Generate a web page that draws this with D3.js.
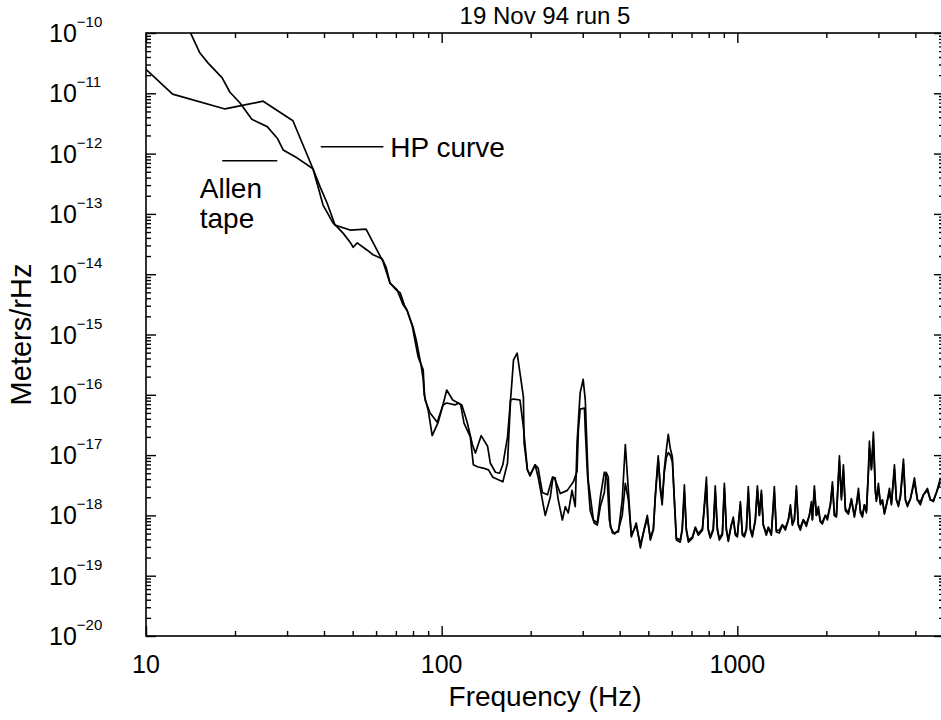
<!DOCTYPE html>
<html>
<head>
<meta charset="utf-8">
<script src="https://cdn.jsdelivr.net/npm/d3@7"></script>
<style>
  html, body { margin: 0; padding: 0; background: #fff; }
  svg { display: block; font-family: "Liberation Sans", Arial, sans-serif; }
</style>
</head>
<body>
<div class="canvas"></div>
<script>
/////////////////////////////////////////////////////
////////////// data ///////////////
/////////////////////////////////////////////////////

// HP analyser curve (coarser, flat topped lines)
const hpFreq = [10, 12.3, 18.5, 24.9, 31.4, 36.7, 38.8, 41.0, 43.6, 49.0,
  55.5, 63.4, 66.9, 70.7, 74.1, 76.4, 79.5, 83.3, 86.6, 87.3,
  87.9, 91.4, 96.6, 101, 104, 111, 114, 116, 119, 125,
  128, 132, 138, 144, 149, 161, 167, 171, 175, 184,
  189, 195, 199, 207, 212, 219, 228, 237, 242, 252,
  266, 279, 287, 290, 294, 304, 306, 311, 318, 328,
  336, 344, 355, 360, 366, 372, 384, 396, 408, 418,
  428, 438, 455,
  470, 485, 496, 508, 520, 528, 540, 549, 557, 566,
  575, 584, 593, 603, 612, 622, 641, 651, 662, 672,
  683, 705, 721, 738, 762, 786, 797, 810, 829, 842,
  856, 869, 890, 904, 918, 932, 954, 969, 985, 1000,
  1024, 1040, 1056, 1073, 1089, 1107, 1124, 1150, 1169, 1187,
  1206, 1224, 1253, 1273, 1303, 1334, 1355, 1387, 1420, 1454,
  1488, 1512, 1535, 1559, 1584, 1608, 1634, 1672, 1712, 1752,
  1780, 1794, 1822, 1851, 1880, 1909, 1939, 1985, 2016, 2064,
  2097, 2130, 2163, 2214, 2249, 2284, 2320, 2375, 2431, 2488,
  2528, 2568, 2608, 2649, 2690, 2733, 2775, 2797, 2841, 2885,
  2931, 2953, 3000, 3048, 3095, 3144, 3194, 3269, 3320, 3399,
  3452, 3506, 3562, 3646, 3703, 3761, 3851, 3972, 4066, 4162,
  4260, 4395, 4499, 4606, 4715, 4864];
const hpAmp = [2.5e-11, 9.7e-12, 5.5e-12, 7.4e-12, 3.5e-12, 5.6e-13, 2.8e-13, 1.5e-13, 6.5e-14, 5.4e-14,
  5.6e-14, 1.6e-14, 7.1e-15, 5.5e-15, 3.1e-15, 2.5e-15, 1.4e-15, 4.2e-16, 2.6e-16, 1.2e-16,
  8.2e-17, 5.0e-17, 3.5e-17, 6.8e-17, 7.3e-17, 6.8e-17, 7.3e-17, 6.8e-17, 3.4e-17, 2.0e-17,
  6.9e-18, 6.4e-18, 6.1e-18, 5.7e-18, 4.3e-18, 3.6e-18, 7.4e-18, 8.2e-17, 8.5e-17, 8.2e-17,
  2.9e-17, 5.7e-18, 4.7e-18, 6.9e-18, 6.1e-18, 2.4e-18, 2.2e-18, 4.3e-18, 3.9e-18, 2.3e-18,
  2.6e-18, 3.6e-18, 5.4e-18, 2.6e-17, 5.8e-17, 6.0e-17, 2.6e-17, 5.0e-18, 1.2e-18, 7.5e-19,
  6.9e-19, 1.4e-18, 2.4e-18, 5.2e-18, 4.3e-18, 6.4e-19, 4.9e-19, 5.7e-19, 1.0e-18, 3.4e-18,
  1.8e-18, 4.7e-19, 6.9e-19,
  3.3e-19, 6.0e-19, 9.0e-19, 4.2e-19, 6.0e-19, 2.0e-18, 8.5e-18, 3.0e-18, 1.8e-18, 5.0e-18,
  9.0e-18, 1.1e-17, 1.0e-17, 7.7e-18, 2.0e-18, 4.2e-19, 3.9e-19, 6.0e-19, 2.4e-18, 6.0e-19,
  3.9e-19, 4.4e-19, 6.4e-19, 5.0e-19, 6.0e-19, 3.2e-18, 6.0e-19, 4.4e-19, 6.0e-19, 2.4e-18,
  6.0e-19, 4.2e-19, 5.0e-19, 2.8e-18, 6.0e-19, 3.9e-19, 7.0e-19, 8.4e-19, 5.0e-19, 4.7e-19,
  1.5e-18, 5.0e-19, 4.7e-19, 6.0e-19, 2.4e-18, 6.0e-19, 4.7e-19, 8.0e-19, 2.6e-18, 1.0e-18,
  2.3e-18, 7.0e-19, 5.0e-19, 6.4e-19, 5.0e-19, 2.4e-18, 5.6e-19, 5.7e-19, 7.0e-19, 6.2e-19,
  8.5e-19, 1.3e-18, 7.2e-19, 8.5e-19, 2.6e-18, 7.0e-19, 6.4e-19, 8.5e-19, 7.2e-19, 1.0e-18,
  1.5e-18, 8.5e-19, 2.6e-18, 1.0e-18, 1.2e-18, 8.0e-19, 7.8e-19, 1.0e-18, 9.1e-19, 1.5e-18,
  3.1e-18, 1.0e-18, 1.0e-18, 7.7e-18, 2.0e-18, 5.7e-18, 1.3e-18, 1.1e-18, 1.8e-18, 1.0e-18,
  1.5e-18, 2.4e-18, 1.2e-18, 1.0e-18, 1.5e-18, 1.2e-18, 5.0e-18, 1.3e-17, 6.0e-18, 1.8e-17,
  2.4e-18, 1.8e-18, 2.8e-18, 1.6e-18, 1.8e-18, 1.1e-18, 1.5e-18, 2.4e-18, 1.6e-18, 5.7e-18,
  1.8e-18, 1.5e-18, 2.0e-18, 7.1e-18, 1.8e-18, 1.5e-18, 1.9e-18, 3.6e-18, 1.8e-18, 1.7e-18,
  2.2e-18, 2.6e-18, 1.8e-18, 1.8e-18, 2.4e-18, 3.6e-18];

// Allen tape curve (finer resolution, sharp peaks)
const tapeFreq = [14.0, 15.2, 16.2, 18.1, 19.2, 20.8, 22.8, 25.7, 27.8, 29.1,
  32.4, 36.7, 38.2, 39.7, 42.9, 44.3, 46.4, 49.0, 50.2, 51.8,
  56.0, 58.6, 62.9, 64.9, 66.9, 70.2, 72.4, 74.7, 76.4, 80.1,
  82.0, 85.2, 86.6, 87.3, 90.0, 92.9, 97.3, 101, 104, 109,
  117, 122, 127, 130, 136, 143, 146, 152, 157, 161,
  167, 172, 175, 180, 184, 189, 190, 195, 199, 207,
  212, 224, 233, 238, 242, 248, 256, 262, 268, 276,
  283, 287, 294, 301, 306, 313, 326, 336, 344, 355,
  363, 369, 378, 396, 408, 418, 428, 438, 455,
  470, 485, 496, 508, 520, 528, 540, 549, 557, 566,
  575, 584, 593, 603, 612, 622, 641, 651, 662, 672,
  683, 705, 721, 738, 762, 786, 797, 810, 829, 842,
  856, 869, 890, 904, 918, 932, 954, 969, 985, 1000,
  1024, 1040, 1056, 1073, 1089, 1107, 1124, 1150, 1169, 1187,
  1206, 1224, 1253, 1273, 1303, 1334, 1355, 1387, 1420, 1454,
  1488, 1512, 1535, 1559, 1584, 1608, 1634, 1672, 1712, 1752,
  1780, 1794, 1822, 1851, 1880, 1909, 1939, 1985, 2016, 2064,
  2097, 2130, 2163, 2214, 2249, 2284, 2320, 2375, 2431, 2488,
  2528, 2568, 2608, 2649, 2690, 2733, 2775, 2797, 2841, 2885,
  2931, 2953, 3000, 3048, 3095, 3144, 3194, 3269, 3320, 3399,
  3452, 3506, 3562, 3646, 3703, 3761, 3851, 3972, 4066, 4162,
  4260, 4395, 4499, 4606, 4715, 4864];
const tapeAmp = [1.12e-10, 4.7e-11, 3.2e-11, 1.8e-11, 1.05e-11, 6.9e-12, 3.7e-12, 2.8e-12, 1.8e-12, 1.15e-12,
  8.5e-13, 5.6e-13, 2.8e-13, 1.4e-13, 7.1e-14, 6.1e-14, 4.8e-14, 3.4e-14, 2.8e-14, 3.3e-14,
  2.5e-14, 2.1e-14, 1.8e-14, 1.3e-14, 7.1e-15, 5.5e-15, 4.9e-15, 3.1e-15, 2.5e-15, 1.3e-15,
  8.1e-16, 3.1e-16, 1.8e-16, 9.9e-17, 5.6e-17, 2.1e-17, 3.5e-17, 6.8e-17, 1.2e-16, 8.2e-17,
  6.8e-17, 3.5e-17, 1.5e-17, 1.08e-17, 2.1e-17, 1.4e-17, 7.4e-18, 5.2e-18, 5.0e-18, 6.9e-18,
  2.0e-17, 1.2e-16, 3.8e-16, 4.9e-16, 2.3e-16, 9.2e-17, 1.6e-17, 5.7e-18, 4.5e-18, 6.9e-18,
  4.3e-18, 1.0e-18, 2.0e-18, 4.3e-18, 4.2e-18, 1.8e-18, 8.4e-19, 1.4e-18, 1.1e-18, 2.6e-18,
  1.4e-18, 1.6e-17, 1.07e-16, 1.8e-16, 8.2e-17, 3.9e-18, 8.4e-19, 7.5e-19, 2.0e-18, 5.2e-18,
  3.9e-18, 8.4e-19, 5.1e-19, 5.3e-19, 1.8e-18, 1.5e-17, 2.6e-18, 4.4e-19, 7.5e-19,
  2.9e-19, 6.2e-19, 1.0e-18, 3.9e-19, 5.7e-19, 2.2e-18, 9.7e-18, 2.6e-18, 1.5e-18, 5.7e-18,
  1.2e-17, 2.2e-17, 1.3e-17, 9.3e-18, 1.8e-18, 3.9e-19, 3.6e-19, 5.7e-19, 3.2e-18, 5.7e-19,
  3.6e-19, 4.2e-19, 6.2e-19, 4.7e-19, 5.7e-19, 4.3e-18, 5.7e-19, 4.2e-19, 5.7e-19, 3.1e-18,
  5.7e-19, 3.9e-19, 4.7e-19, 3.4e-18, 5.7e-19, 3.7e-19, 6.9e-19, 9.4e-19, 4.7e-19, 4.4e-19,
  1.7e-18, 4.7e-19, 4.4e-19, 5.7e-19, 3.0e-18, 5.7e-19, 4.4e-19, 8.4e-19, 3.1e-18, 1.0e-18,
  2.6e-18, 6.9e-19, 4.7e-19, 6.2e-19, 4.7e-19, 3.0e-18, 5.3e-19, 5.1e-19, 6.9e-19, 5.7e-19,
  8.4e-19, 1.5e-18, 6.9e-19, 8.4e-19, 3.1e-18, 6.9e-19, 5.7e-19, 8.4e-19, 6.6e-19, 1.0e-18,
  1.7e-18, 8.4e-19, 3.1e-18, 1.0e-18, 1.4e-18, 7.8e-19, 7.2e-19, 1.0e-18, 8.4e-19, 1.5e-18,
  3.6e-18, 1.0e-18, 9.4e-19, 9.7e-18, 1.8e-18, 6.9e-18, 1.2e-18, 1.05e-18, 1.9e-18, 9.4e-19,
  1.5e-18, 2.8e-18, 1.1e-18, 9.4e-19, 1.5e-18, 1.1e-18, 5.7e-18, 1.7e-17, 5.7e-18, 2.4e-17,
  2.6e-18, 1.7e-18, 3.4e-18, 1.5e-18, 1.8e-18, 1.05e-18, 1.5e-18, 2.8e-18, 1.5e-18, 6.9e-18,
  1.8e-18, 1.4e-18, 2.2e-18, 8.6e-18, 1.8e-18, 1.4e-18, 1.9e-18, 4.2e-18, 1.8e-18, 1.5e-18,
  2.2e-18, 2.8e-18, 1.8e-18, 1.7e-18, 2.4e-18, 4.2e-18];

// axis domains and labelled decades
const freqDomain = [10, 5000];
const ampDomain = [1e-20, 1e-10];
const xLabels = [10, 100, 1000];
const yExponents = [-10, -11, -12, -13, -14, -15, -16, -17, -18, -19, -20];

/////////////////////////////////////////////////////
//////////////// chart scaffolding //////////////////
/////////////////////////////////////////////////////

const dims = { width: 941, height: 720 };
// plot box (right edge runs just past the window)
const box = { left: 146, right: 944, top: 33, bottom: 636 };

const svg = d3.select('.canvas')
  .append('svg')
  .attr('width', dims.width)
  .attr('height', dims.height);

const x = d3.scaleLog().domain(freqDomain).range([box.left, box.right]);
const y = d3.scaleLog().domain(ampDomain).range([box.bottom, box.top]);

// major = powers of ten, minor = everything else
const isPow10 = v => Math.abs(Math.log10(v) - Math.round(Math.log10(v))) < 1e-6;
const xMinor = x.ticks().filter(v => !isPow10(v));
const xMajor = x.ticks().filter(isPow10);
const yMinor = y.ticks(20).filter(v => !isPow10(v));
const yMajor = y.ticks(20).filter(isPow10);

// tick marks all point into the box
const tickGroup = (axis, vals, len, tx, ty) => {
  const g = svg.append('g')
    .attr('transform', `translate(${tx}, ${ty})`)
    .call(axis.tickValues(vals).tickSize(-len).tickFormat(''));
  g.select('.domain').remove();
  g.selectAll('line').attr('stroke', '#000').attr('stroke-width', 1.4);
};

tickGroup(d3.axisBottom(x), xMinor, 5, 0, box.bottom);
tickGroup(d3.axisBottom(x), xMajor, 10, 0, box.bottom);
tickGroup(d3.axisTop(x), xMinor, 5, 0, box.top);
tickGroup(d3.axisTop(x), xMajor, 10, 0, box.top);
tickGroup(d3.axisLeft(y), yMinor, 5, box.left, 0);
tickGroup(d3.axisLeft(y), yMajor, 10, box.left, 0);
tickGroup(d3.axisRight(y), yMinor, 5, box.right, 0);
tickGroup(d3.axisRight(y), yMajor, 10, box.right, 0);

// frame
svg.append('rect')
  .attr('x', box.left)
  .attr('y', box.top)
  .attr('width', box.right - box.left)
  .attr('height', box.bottom - box.top)
  .attr('fill', 'none')
  .attr('stroke', '#000')
  .attr('stroke-width', 1.6);

/////////////////////////////////////////////////////
///////////////////// curves ////////////////////////
/////////////////////////////////////////////////////

svg.append('clipPath').attr('id', 'plotClip')
  .append('rect')
  .attr('x', box.left).attr('y', box.top)
  .attr('width', box.right - box.left).attr('height', box.bottom - box.top);

const line = d3.line()
  .x(d => x(d[0]))
  .y(d => y(d[1]));

const curves = [d3.zip(hpFreq, hpAmp), d3.zip(tapeFreq, tapeAmp)];

svg.append('g')
  .attr('clip-path', 'url(#plotClip)')
  .selectAll('path')
  .data(curves)
  .enter()
  .append('path')
  .attr('d', line)
  .attr('fill', 'none')
  .attr('stroke', '#000')
  .attr('stroke-width', 1.7)
  .attr('stroke-linejoin', 'round');

/////////////////////////////////////////////////////
///////////////////// labels ////////////////////////
/////////////////////////////////////////////////////

// y tick labels: 10 with a superscript exponent
const yLab = svg.append('g')
  .selectAll('text')
  .data(yExponents)
  .enter()
  .append('text')
  .attr('x', 49)
  .attr('y', d => y(Math.pow(10, d)) + 9)
  .attr('font-size', 25);
yLab.append('tspan').text('10');
yLab.append('tspan')
  .attr('dy', -15)
  .attr('font-size', 15)
  .text(d => '\u2212' + Math.abs(d));

// x tick labels
svg.append('g')
  .selectAll('text')
  .data(xLabels)
  .enter()
  .append('text')
  .attr('x', d => x(d))
  .attr('y', 673)
  .attr('text-anchor', 'middle')
  .attr('font-size', 25)
  .text(d => d);

// axis titles + plot title
svg.append('text')
  .attr('x', (box.left + box.right) / 2)
  .attr('y', 706)
  .attr('text-anchor', 'middle')
  .attr('font-size', 28)
  .text('Frequency (Hz)');

svg.append('text')
  .attr('transform', `translate(31, ${(box.top + box.bottom) / 2}) rotate(-90)`)
  .attr('text-anchor', 'middle')
  .attr('font-size', 29)
  .text('Meters/rHz');

svg.append('text')
  .attr('x', (box.left + box.right) / 2)
  .attr('y', 24)
  .attr('text-anchor', 'middle')
  .attr('font-size', 24)
  .text('19 Nov 94 run 5');

// curve annotations, placed in data units
const note = (f0, f1, amp) => svg.append('line')
  .attr('x1', x(f0)).attr('x2', x(f1))
  .attr('y1', y(amp)).attr('y2', y(amp))
  .attr('stroke', '#000')
  .attr('stroke-width', 1.6);

note(39, 63.5, 1.3e-12);
svg.append('text')
  .attr('x', x(67)).attr('y', y(1.3e-12) + 10)
  .attr('font-size', 28)
  .text('HP curve');

note(18.1, 27.8, 7.6e-13);
svg.append('text')
  .attr('x', x(15.2)).attr('y', 198)
  .attr('font-size', 28)
  .text('Allen');
svg.append('text')
  .attr('x', x(15.2)).attr('y', 228)
  .attr('font-size', 28)
  .text('tape');
</script>
</body>
</html>
